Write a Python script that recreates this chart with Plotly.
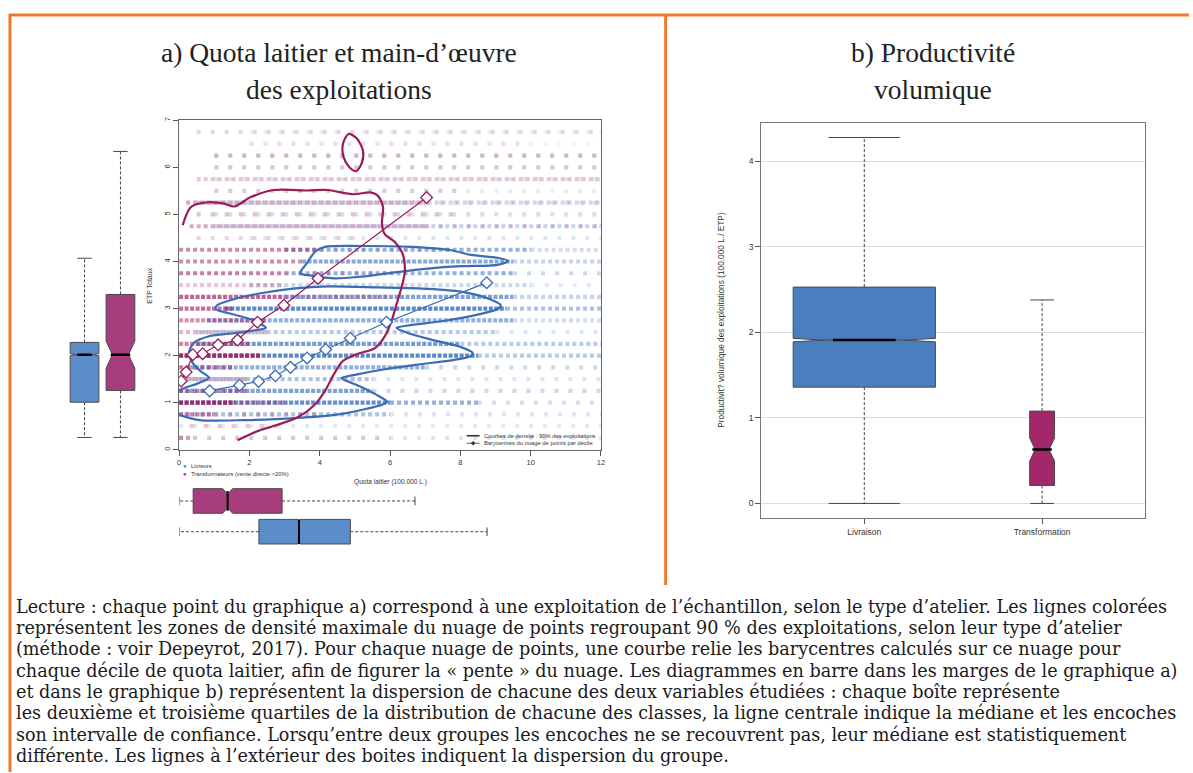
import plotly.graph_objects as go

W, H = 1193, 773

# ======================= DATA =======================
# (a) scatter cloud: one dotted row per ETP level, split in segments of similar density
blue_seg_y  = [0.25, 0.5, 0.75, 0.75, 1.0, 1.0, 1.0, 1.25, 1.25, 1.5, 1.5, 1.75, 1.75, 2.0, 2.0,
               2.25, 2.25, 2.5, 2.5, 2.75, 2.75, 3.0, 3.0, 3.25, 3.25, 3.5, 3.5, 3.75, 3.75,
               4.0, 4.0, 4.25, 4.25, 4.5, 4.75, 5.0, 5.25, 5.5, 5.75, 6.0, 6.25, 6.5, 6.75]
blue_seg_x0 = [0.0, 0.0, 0.0, 6.0, 0.0, 6.0, 8.5, 0.0, 5.5, 0.3, 5.5, 0.3, 7.0, 0.0, 8.5,
               0.5, 8.0, 0.5, 9.0, 0.8, 9.5, 1.3, 9.3, 3.0, 9.5, 2.0, 10.0, 3.0, 9.5,
               3.5, 9.5, 3.0, 10.0, 2.0, 1.0, 1.0, 0.5, 1.0, 1.0, 1.0, 1.0, 2.0, 2.0]
blue_seg_x1 = [12.0, 12.0, 6.0, 12.0, 6.0, 8.5, 12.0, 5.5, 12.0, 5.5, 12.0, 7.0, 12.0, 8.5, 12.0,
               8.0, 12.0, 9.0, 12.0, 9.5, 12.0, 9.3, 12.0, 9.5, 12.0, 10.0, 12.0, 9.5, 12.0,
               9.5, 12.0, 10.0, 12.0, 12.0, 12.0, 12.0, 12.0, 12.0, 12.0, 12.0, 12.0, 12.0, 12.0]
blue_seg_d  = [0.12, 0.10, 0.35, 0.12, 0.85, 0.45, 0.15, 0.70, 0.18, 0.35, 0.12, 0.60, 0.18, 0.90, 0.30,
               0.75, 0.30, 0.30, 0.12, 0.60, 0.20, 0.90, 0.35, 0.70, 0.25, 0.22, 0.10, 0.45, 0.18,
               0.65, 0.25, 0.45, 0.20, 0.12, 0.25, 0.15, 0.22, 0.08, 0.10, 0.08, 0.08, 0.05, 0.06]

mag_seg_y  = [0.25, 0.25, 0.5, 0.75, 0.75, 1.0, 1.0, 1.25, 1.5, 1.75, 2.0, 2.25, 2.5, 2.75, 3.0,
              3.25, 3.25, 3.5, 3.75, 3.75, 4.0, 4.25, 4.25, 4.5, 4.75, 4.75, 5.0, 5.25, 5.25,
              5.5, 5.75, 6.0, 6.25, 6.5, 6.75]
mag_seg_x0 = [0.0, 0.4, 0.3, 0.0, 1.0, 0.0, 1.5, 0.0, 0.0, 0.0, 0.0, 0.0, 0.0, 0.0, 0.0,
              0.0, 3.0, 0.0, 0.0, 3.0, 0.0, 0.0, 4.0, 0.5, 0.3, 7.0, 0.5, 0.2, 7.0,
              1.0, 0.5, 1.0, 1.0, 2.0, 0.5]
mag_seg_x1 = [0.4, 6.0, 3.0, 1.0, 4.0, 1.5, 3.0, 2.0, 2.0, 1.5, 2.3, 2.0, 2.5, 2.5, 1.5,
              3.0, 6.0, 3.0, 3.0, 6.0, 3.5, 4.0, 8.0, 5.0, 7.0, 12.0, 8.0, 7.0, 12.0,
              8.0, 12.0, 12.0, 12.0, 10.0, 12.0]
mag_seg_d  = [0.35, 0.08, 0.15, 0.55, 0.15, 0.95, 0.35, 0.40, 0.30, 0.45, 0.90, 0.55, 0.25, 0.50, 0.65,
              0.70, 0.25, 0.20, 0.45, 0.15, 0.40, 0.40, 0.12, 0.12, 0.30, 0.12, 0.18, 0.30, 0.12,
              0.10, 0.20, 0.12, 0.18, 0.06, 0.12]

# (a) density contours (90 % of farms)
blue_contour_x = [0.00, 0.57, 1.89, 3.30, 4.53, 5.28, 5.75, 5.92, 5.75, 5.38, 4.91, 4.62, 5.00, 5.85,
                  6.79, 7.74, 8.30, 8.35, 8.02, 7.17, 6.51, 6.18, 6.51, 7.55, 8.49, 9.06, 9.15, 8.77,
                  8.02, 7.08, 5.66, 4.25, 3.30, 2.36, 1.51, 1.08, 1.04, 1.42, 2.08, 2.47, 2.26, 1.60,
                  0.85, 0.42, 0.28, 0.38, 0.61, 0.85, 0.57, 0.19, 0.00]
blue_contour_y = [0.74, 0.63, 0.63, 0.67, 0.75, 0.86, 0.95, 1.02, 1.11, 1.26, 1.42, 1.52, 1.59, 1.71,
                  1.81, 1.90, 1.99, 2.06, 2.18, 2.34, 2.48, 2.59, 2.64, 2.74, 2.87, 2.99, 3.07, 3.22,
                  3.36, 3.42, 3.45, 3.47, 3.43, 3.33, 3.19, 3.07, 2.99, 2.90, 2.76, 2.59, 2.55, 2.48,
                  2.41, 2.27, 2.06, 1.85, 1.67, 1.53, 1.42, 1.32, 1.26]
blue_island_x = [3.44, 3.63, 3.87, 4.15, 5.19, 6.60, 7.74, 8.30, 9.06, 9.36, 9.06, 8.02, 7.08, 6.13,
                 5.19, 4.43, 3.77, 3.44]
blue_island_y = [3.75, 3.96, 4.21, 4.31, 4.33, 4.31, 4.24, 4.14, 4.08, 4.01, 3.93, 3.90, 3.85, 3.77,
                 3.68, 3.64, 3.70, 3.75]
mag_contour_x = [0.10, 0.34, 0.81, 1.28, 1.57, 2.04, 2.70, 3.64, 4.21, 4.96, 5.43, 5.65, 5.80, 5.77,
                 5.85, 6.13, 6.37, 6.42, 6.32, 6.18, 6.04, 5.85, 5.57, 5.05, 4.65, 4.40, 4.15, 3.85,
                 3.40, 2.80, 2.25, 1.66]
mag_contour_y = [4.77, 5.16, 5.26, 5.23, 5.17, 5.37, 5.52, 5.51, 5.52, 5.43, 5.47, 5.40, 5.16, 4.81,
                 4.58, 4.42, 4.14, 3.78, 3.43, 3.08, 2.73, 2.41, 2.16, 2.03, 1.88, 1.60, 1.25, 0.95,
                 0.70, 0.53, 0.40, 0.20]
mag_ellipse_x = [4.82, 5.05, 5.23, 5.20, 5.04, 4.85, 4.68, 4.66, 4.82]
mag_ellipse_y = [6.71, 6.62, 6.36, 6.10, 5.92, 6.00, 6.22, 6.50, 6.71]

# (a) barycentres by decile of milk quota
blue_bary_x = [0.87, 1.72, 2.26, 2.74, 3.17, 3.64, 4.17, 4.87, 5.90, 8.75]
blue_bary_y = [1.25, 1.37, 1.45, 1.57, 1.75, 1.95, 2.13, 2.37, 2.71, 3.55]
mag_bary_x = [0.06, 0.20, 0.39, 0.67, 1.11, 1.66, 2.23, 2.98, 3.95, 7.04]
mag_bary_y = [1.46, 1.65, 2.02, 2.04, 2.23, 2.33, 2.71, 3.07, 3.64, 5.36]

# (a) marginal boxplots  [Livreurs, Transformateurs]
etp_lower = [0.26, 0.26]
etp_q1    = [1.01, 1.26]
etp_med   = [2.02, 2.02]
etp_q3    = [2.28, 3.30]
etp_upper = [4.07, 6.34]
etp_notch = [0.02, 0.29]

quota_lower = [0.0, 0.0]
quota_q1    = [2.27, 0.40]
quota_med   = [3.41, 1.38]
quota_q3    = [4.87, 2.93]
quota_upper = [8.76, 6.71]
quota_notch = [0.03, 0.14]

# (b) volume productivity (100.000 L / ETP)
prod_cats  = ["Livraison", "Transformation"]
prod_lower = [0.0, 0.0]
prod_q1    = [1.36, 0.21]
prod_med   = [1.91, 0.63]
prod_q3    = [2.53, 1.08]
prod_upper = [4.28, 2.38]
prod_notch = [0.02, 0.135]

caption_lines = [
    "Lecture : chaque point du graphique a) correspond à une exploitation de l’échantillon, selon le type d’atelier. Les lignes colorées",
    "représentent les zones de densité maximale du nuage de points regroupant 90 % des exploitations, selon leur type d’atelier",
    "(méthode : voir Depeyrot, 2017). Pour chaque nuage de points, une courbe relie les barycentres calculés sur ce nuage pour",
    "chaque décile de quota laitier, afin de figurer la « pente » du nuage. Les diagrammes en barre dans les marges de le graphique a)",
    "et dans le graphique b) représentent la dispersion de chacune des deux variables étudiées : chaque boîte représente",
    "les deuxième et troisième quartiles de la distribution de chacune des classes, la ligne centrale indique la médiane et les encoches",
    "son intervalle de confiance. Lorsqu’entre deux groupes les encoches ne se recouvrent pas, leur médiane est statistiquement",
    "différente. Les lignes à l’extérieur des boites indiquent la dispersion du groupe.",
]

# ======================= STYLE =======================
BLUE_DOT = "rgb(74,124,196)"
MAG_DOT = "rgb(166,34,104)"
BLUE_LINE = "#3a6db3"
MAG_LINE = "#9b1b5a"
BLUE_BOX = "#5b8dcb"
MAG_BOX = "#a73d7c"
BLUE_BOX_B = "#4a7fbf"
MAG_BOX_B = "#a2286a"
EDGE = "#4a4a4a"
ORANGE = "#ee7a2a"
SANS = "Liberation Sans, Arial, sans-serif"

fig = go.Figure()


def fx(px):
    return px / W


def fy(py):
    return 1 - py / H


# ---- scatter rows: sparse rows drawn with wider gaps so single dots show
def rows(ys, x0s, x1s, ds, color):
    for y, a, b, d in zip(ys, x0s, x1s, ds):
        if d >= 0.5:
            dash, op = "4px,1.5px", d
        elif d >= 0.2:
            dash, op = "4px,3px", min(1.0, d * 1.3)
        else:
            dash, op = "4px,10px", min(1.0, d * 1.6)
        fig.add_trace(go.Scatter(x=[a, b], y=[y, y], mode="lines",
                                 line=dict(color=color, width=4.2, dash=dash),
                                 opacity=op, hoverinfo="skip", showlegend=False,
                                 xaxis="x", yaxis="y"))


rows(blue_seg_y, blue_seg_x0, blue_seg_x1, blue_seg_d, BLUE_DOT)
rows(mag_seg_y, mag_seg_x0, mag_seg_x1, mag_seg_d, MAG_DOT)

# ---- contours
for cx, cy, col in [(blue_contour_x, blue_contour_y, BLUE_LINE),
                    (blue_island_x, blue_island_y, BLUE_LINE),
                    (mag_contour_x, mag_contour_y, MAG_LINE),
                    (mag_ellipse_x, mag_ellipse_y, MAG_LINE)]:
    fig.add_trace(go.Scatter(x=cx, y=cy, mode="lines",
                             line=dict(color=col, width=2.2, shape="spline", smoothing=0.8),
                             hoverinfo="skip", showlegend=False, xaxis="x", yaxis="y"))

# ---- barycentres
for bx, by, col in [(blue_bary_x, blue_bary_y, BLUE_LINE), (mag_bary_x, mag_bary_y, MAG_LINE)]:
    fig.add_trace(go.Scatter(x=bx, y=by, mode="lines+markers",
                             line=dict(color=col, width=1.2),
                             marker=dict(symbol="diamond", size=9, color="white",
                                         line=dict(color=col, width=1.3)),
                             hoverinfo="skip", showlegend=False, xaxis="x", yaxis="y"))


# ---- box helper
def box(xa, ya, pos, lo, q1, med, q3, up, notch, width, fill, med_frac, cap_frac, horiz=False,
        med_w=2.5):
    common = dict(q1=[q1], median=[med], q3=[q3], lowerfence=[q1], upperfence=[q3],
                  notched=notch > 0, notchspan=[notch], notchwidth=0.22, width=width,
                  fillcolor=fill, line=dict(color=EDGE, width=1), whiskerwidth=0,
                  boxpoints=False, hoverinfo="skip", showlegend=False, xaxis=xa, yaxis=ya)
    if horiz:
        fig.add_trace(go.Box(y=[pos], orientation="h", **common))
    else:
        fig.add_trace(go.Box(x=[pos], orientation="v", **common))
    hw = width / 2
    p = [pos, pos, None, pos, pos]
    v = [q3, up, None, q1, lo]
    cp = [pos - hw * cap_frac, pos + hw * cap_frac, None, pos - hw * cap_frac, pos + hw * cap_frac]
    cv = [up, up, None, lo, lo]
    mp = [pos - hw * med_frac, pos + hw * med_frac]
    mv = [med, med]
    for a, b, st in [(p, v, dict(color="#444", width=1, dash="3px,2px")),
                     (cp, cv, dict(color="#444", width=1)),
                     (mp, mv, dict(color="black", width=med_w))]:
        if horiz:
            xx, yy = b, a
        else:
            xx, yy = a, b
        fig.add_trace(go.Scatter(x=xx, y=yy, mode="lines", line=st, hoverinfo="skip",
                                 showlegend=False, xaxis=xa, yaxis=ya, connectgaps=False))


# left marginal (ETP)  -> x3/y3
left_fill = [BLUE_BOX, MAG_BOX]
left_med = [0.5, 0.68]
for i in range(2):
    box("x3", "y3", i + 1, etp_lower[i], etp_q1[i], etp_med[i], etp_q3[i], etp_upper[i],
        etp_notch[i], 0.8, left_fill[i], left_med[i], 0.5)

# bottom marginal (quota) -> x4/y4 ; blue at 1 (lower), magenta at 2 (upper)
bot_med = [1.0, 0.8]
for i in range(2):
    box("x4", "y4", i + 1, quota_lower[i], quota_q1[i], quota_med[i], quota_q3[i], quota_upper[i],
        quota_notch[i], 0.8, left_fill[i], bot_med[i], 0.35, horiz=True, med_w=2)

# panel b -> x5/y5
b_fill = [BLUE_BOX_B, MAG_BOX_B]
b_width = [0.8, 0.14]
b_med = [0.44, 0.78]
b_cap = [0.5, 0.95]
for i in range(2):
    box("x5", "y5", i + 1, prod_lower[i], prod_q1[i], prod_med[i], prod_q3[i], prod_upper[i],
        prod_notch[i], b_width[i], b_fill[i], b_med[i], b_cap[i], med_w=2.5)

# ======================= LAYOUT =======================
tick_font = dict(family=SANS, size=7.5, color="#333")
layout = dict(
    width=W, height=H, autosize=False, margin=dict(l=0, r=0, t=0, b=0),
    paper_bgcolor="white", plot_bgcolor="rgba(0,0,0,0)", showlegend=False,
    xaxis=dict(domain=[fx(178), fx(602)], range=[0, 12], tickvals=[0, 2, 4, 6, 8, 10, 12],
               ticks="outside", ticklen=5, tickcolor="#555", showline=True, mirror=True,
               linecolor="#666", linewidth=1, showgrid=False, zeroline=False,
               tickfont=tick_font, anchor="y"),
    yaxis=dict(domain=[fy(449), fy(118)], range=[0, 7], tickvals=list(range(8)),
               ticks="outside", ticklen=5, tickcolor="#555", showline=True, mirror=True,
               linecolor="#666", linewidth=1, showgrid=False, zeroline=False,
               tickfont=tick_font, tickangle=-90, anchor="x"),
    xaxis3=dict(domain=[fx(62), fx(140)], range=[0.42, 2.58], visible=False, anchor="y3"),
    yaxis3=dict(domain=[fy(449), fy(118)], range=[0, 7], visible=False, anchor="x3"),
    xaxis4=dict(domain=[fx(178), fx(602)], range=[0, 12], visible=False, anchor="y4"),
    yaxis4=dict(domain=[fy(550), fy(482)], range=[0.4, 2.6], visible=False, anchor="x4"),
    xaxis5=dict(domain=[fx(763), fx(1149)], range=[0.42, 2.58], tickvals=[1, 2],
                ticktext=prod_cats, ticks="outside", ticklen=5, tickcolor="#555",
                showline=True, mirror=True, linecolor="#777", linewidth=1, showgrid=False,
                zeroline=False, tickfont=dict(family=SANS, size=8.5, color="#333"), anchor="y5"),
    yaxis5=dict(domain=[fy(518), fy(121)], range=[-0.174, 4.445], tickvals=[0, 1, 2, 3, 4],
                ticks="outside", ticklen=5, tickcolor="#555", showline=True, mirror=True,
                linecolor="#777", linewidth=1, showgrid=True, gridcolor="#dcdcdc",
                gridwidth=1, zeroline=False,
                tickfont=dict(family=SANS, size=8.5, color="#333"), anchor="x5"),
)

shapes = [
    dict(type="line", xref="paper", yref="paper", x0=fx(7), x1=fx(1193), y0=fy(12), y1=fy(12),
         line=dict(color=ORANGE, width=3)),
    dict(type="line", xref="paper", yref="paper", x0=fx(8), x1=fx(8), y0=fy(11), y1=fy(773),
         line=dict(color=ORANGE, width=3)),
    dict(type="line", xref="paper", yref="paper", x0=fx(667), x1=fx(667), y0=fy(11), y1=fy(585),
         line=dict(color=ORANGE, width=3)),
    # legend glyphs (bottom right of scatter)
    dict(type="line", xref="paper", yref="paper", x0=fx(467), x1=fx(480), y0=fy(435), y1=fy(435),
         line=dict(color="#333", width=1.6)),
    dict(type="line", xref="paper", yref="paper", x0=fx(467), x1=fx(480), y0=fy(442.5),
         y1=fy(442.5), line=dict(color="#333", width=0.8)),
    dict(type="path", xref="paper", yref="paper",
         path=f"M {fx(471.5)},{fy(442.5)} L {fx(473.5)},{fy(440.5)} L {fx(475.5)},{fy(442.5)} "
              f"L {fx(473.5)},{fy(444.5)} Z",
         fillcolor="#333", line=dict(color="#333", width=0.5)),
]
layout["shapes"] = shapes

ann = []


def text(x, y, s, size, family=SANS, color="#333", xanchor="center", angle=0, yanchor="middle"):
    ann.append(dict(x=fx(x), y=fy(y), xref="paper", yref="paper", text=s, showarrow=False,
                    font=dict(family=family, size=size, color=color), xanchor=xanchor,
                    yanchor=yanchor, textangle=angle, borderpad=0))


TITLE_FONT = "Liberation Serif, Times New Roman, serif"
text(338.5, 50, "a) Quota laitier et main-d’œuvre", 27.5, TITLE_FONT, "#222")
text(338.5, 87, "des exploitations", 27.5, TITLE_FONT, "#222")
text(936, 50, "b) Productivité", 27.5, TITLE_FONT, "#222")
text(936, 87, "volumique", 27.5, TITLE_FONT, "#222")

text(148, 284, "ETP Totaux", 7, angle=-90)
text(390, 481, "Quota laitier (100.000 L.)", 6.6)
text(723, 318, "Productivit? volumique des exploitations (100.000 L./ ETP)", 8.3, angle=-90)

# bottom-left legend
text(183.5, 465.5, "●", 6, color=BLUE_DOT)
text(189, 465.5, "Livreurs", 5.8, xanchor="left")
text(183.5, 473, "●", 6, color=MAG_DOT)
text(189, 473, "Transformateurs (vente directe >20%)", 5.8, xanchor="left")
# bottom-right legend
text(483, 435, "Courbes de densité : 90% des exploitations", 5.8, xanchor="left")
text(483, 442.5, "Barycentres du nuage de points par décile", 5.8, xanchor="left")

CAP_FONT = "DejaVu Serif, serif"
for i, line in enumerate(caption_lines):
    text(13, 607 + i * 21.4, line, 17.6, CAP_FONT, "#1a1a1a", xanchor="left")

layout["annotations"] = ann
fig.update_layout(**layout)

fig.write_html("out.html")
